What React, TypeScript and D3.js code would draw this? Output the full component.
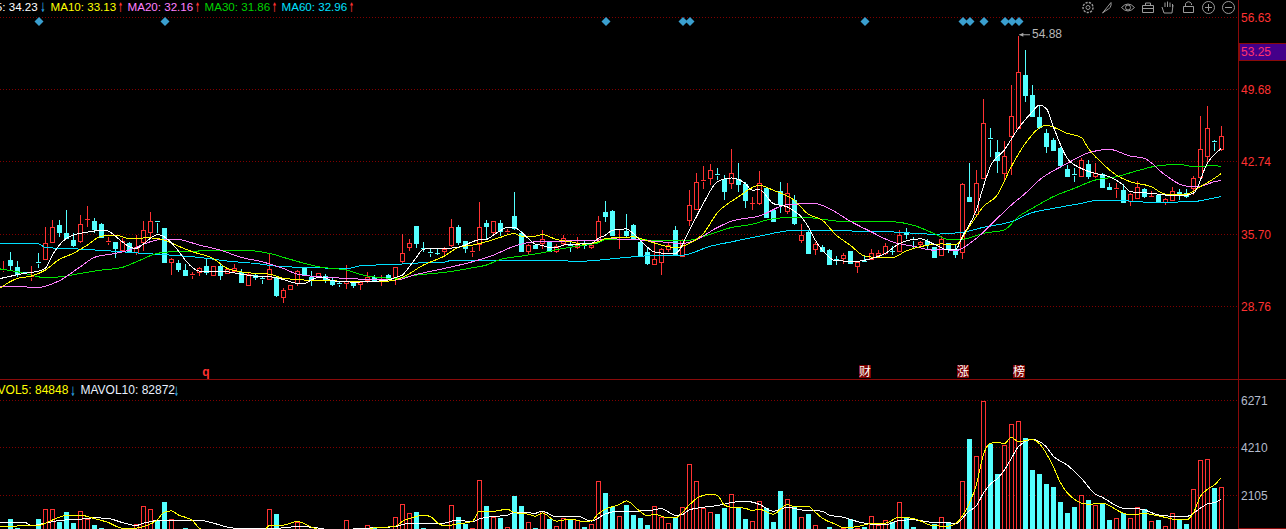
import React from 'react';
import * as d3 from 'd3';

// candles, oldest first
const opens = [32.24,33.23,32.53,32.05,31.56,33.04,33.30,34.93,36.60,35.80,35.16,35.03,37.15,36.96,36.70,35.00,34.93,34.20,34.84,34.04,35.00,35.96,37.05,36.28,33.01,32.91,32.27,31.79,32.05,32.66,31.82,32.66,31.95,32.21,32.08,30.86,31.82,31.47,31.44,31.60,29.70,30.41,30.99,32.49,31.56,31.56,31.69,31.24,31.05,31.05,31.05,30.89,31.31,31.63,31.31,31.76,31.63,33.14,34.52,36.51,34.39,34.00,33.94,34.07,34.71,36.44,35.06,34.04,34.77,36.80,35.96,36.80,35.90,37.47,35.80,34.10,34.65,34.84,35.00,34.10,34.84,34.71,34.45,34.84,34.52,35.26,37.85,37.94,35.44,36.02,36.59,34.99,34.00,32.90,33.06,34.28,36.11,33.64,37.11,38.17,40.86,41.18,41.54,41.09,40.70,41.02,40.61,38.71,38.71,40.16,38.04,39.87,37.97,39.07,35.15,35.95,34.31,34.48,34.19,33.32,33.45,34.09,32.71,33.10,33.32,33.74,33.87,34.15,34.12,35.92,35.28,34.80,35.05,34.47,33.73,34.85,34.27,33.99,39.31,37.71,41.18,45.03,43.65,41.66,45.16,45.99,51.06,49.14,47.02,45.48,44.80,44.03,42.01,41.50,41.34,42.49,41.37,41.50,40.28,40.12,39.99,38.90,39.25,40.09,39.35,39.51,38.87,39.03,39.76,39.67,40.15,41.27,43.23,44.71,43.97];
const closes = [32.33,32.75,31.88,31.98,31.69,32.98,34.84,36.38,35.96,35.38,34.71,36.76,37.21,36.22,35.48,35.06,34.39,35.03,34.04,34.45,36.09,36.96,36.92,33.07,33.30,32.37,31.79,31.85,32.49,32.05,32.62,31.82,32.33,32.43,31.11,31.85,31.63,31.37,32.33,29.86,30.34,30.83,32.14,31.76,31.31,31.95,31.37,30.92,30.95,31.21,30.86,31.08,31.56,31.24,31.40,31.56,32.53,33.88,34.84,34.90,34.29,33.94,33.88,34.32,36.38,35.00,34.42,34.10,36.38,36.54,36.96,36.06,36.03,36.28,34.10,34.65,34.39,35.29,34.10,34.55,35.38,34.58,34.65,34.71,34.71,37.05,37.46,35.70,35.50,35.70,35.25,33.77,32.94,33.38,34.35,34.73,33.71,35.15,38.58,40.80,40.93,41.96,41.47,39.90,41.67,40.54,39.00,38.78,40.70,37.36,37.04,38.62,39.74,36.82,35.63,33.87,34.83,34.15,32.84,33.22,33.71,33.00,33.03,33.03,33.96,33.87,34.64,34.09,35.63,35.76,35.21,35.02,34.80,33.54,35.24,34.34,33.86,40.53,38.93,40.63,46.41,44.93,42.91,43.23,47.08,51.32,49.14,47.15,46.09,44.26,43.87,42.40,41.34,41.43,42.85,41.34,41.66,40.31,40.09,40.18,38.87,39.57,40.25,39.44,39.44,38.93,39.09,39.92,39.57,39.41,41.11,43.91,45.93,44.61,45.16];
const highs = [33.14,34.00,33.14,32.11,32.66,33.88,36.44,37.09,37.09,38.05,35.80,37.57,38.43,37.28,36.83,35.48,35.00,35.32,34.93,35.64,36.99,37.86,37.05,36.28,33.39,33.23,32.82,32.05,32.53,33.33,32.69,32.91,32.43,32.85,32.37,31.95,32.01,31.69,33.88,31.63,30.50,30.83,32.27,32.53,32.14,32.01,31.88,31.47,31.15,32.75,31.24,31.15,32.08,31.76,31.76,31.88,32.59,35.74,35.26,36.51,34.97,34.36,34.42,34.52,37.18,36.60,35.06,34.45,38.82,37.09,37.02,37.09,36.19,39.78,36.06,34.77,34.68,36.09,35.00,34.77,35.64,35.09,35.42,35.16,34.77,37.47,38.91,38.10,36.11,37.65,36.69,35.09,34.44,35.15,34.44,34.99,36.50,35.31,39.97,41.63,42.28,42.47,42.12,41.41,43.91,42.63,40.77,39.32,41.79,40.22,38.10,40.74,40.64,39.55,36.69,36.18,34.96,34.67,34.35,33.64,33.87,34.09,33.16,33.71,34.35,34.19,34.89,34.64,36.11,36.37,35.47,35.09,35.31,34.53,35.56,34.92,34.69,40.63,42.56,41.91,48.75,45.96,44.80,44.74,50.10,54.88,53.47,50.10,48.17,45.83,44.96,44.10,42.40,42.07,43.04,42.88,42.56,41.59,40.70,40.63,40.57,39.67,40.89,40.21,39.92,39.60,39.19,40.25,40.05,40.09,41.34,47.12,48.08,44.80,46.15];
const lows = [32.11,32.27,31.63,31.88,31.24,32.49,33.23,34.84,35.48,35.26,34.45,34.90,36.38,35.80,35.38,34.68,33.39,34.10,33.88,33.71,34.10,35.48,35.80,32.98,31.79,32.11,31.69,31.40,31.72,31.79,31.79,31.31,31.92,32.01,31.05,30.83,31.31,30.92,31.31,29.70,29.12,30.41,30.76,31.69,30.76,31.47,31.05,30.73,30.63,30.44,30.54,30.34,30.99,31.15,30.73,31.31,30.83,32.91,34.10,34.39,34.04,33.55,33.71,33.71,34.52,34.68,33.94,33.52,34.13,35.26,35.64,35.58,35.74,36.12,34.00,33.84,34.32,34.26,34.04,33.88,34.68,34.04,34.32,34.32,34.32,35.22,36.92,35.63,34.28,35.37,35.15,33.61,32.74,32.74,31.78,34.03,33.61,33.51,36.50,38.10,40.13,40.45,40.93,39.00,40.13,39.80,38.26,38.04,38.55,37.27,36.92,37.78,37.65,36.61,34.89,33.80,33.71,34.00,32.79,32.74,32.84,32.84,31.97,32.94,33.22,33.61,33.71,33.71,34.06,35.28,34.44,34.57,34.35,33.47,33.67,33.89,33.44,33.34,38.90,37.65,41.11,43.20,41.66,40.76,41.43,45.93,48.50,46.99,45.83,43.58,43.74,42.14,41.31,40.76,41.21,41.05,41.18,40.21,39.99,39.19,38.77,38.45,39.09,39.19,39.22,38.87,38.54,38.93,39.03,39.25,39.51,41.11,42.56,43.71,43.78];
const volumes = [500,1087,695,450,560,1087,1508,1508,971,1392,898,1421,1087,826,695,560,520,480,430,855,1639,1508,1000,1828,1073,600,695,420,380,450,520,400,380,360,420,390,350,400,1508,1305,560,480,971,500,420,380,450,360,340,1029,520,480,811,695,420,460,1160,1726,1334,1392,695,520,480,500,1682,1174,869,695,2771,1653,1189,1131,739,2089,1653,942,695,1421,1087,782,1131,1087,1044,739,855,2728,2220,1610,1203,1697,1261,1131,826,1639,1160,898,1131,1595,3468,2728,1566,1378,1305,1566,2162,1595,1087,986,1857,1566,957,2307,1944,1595,1160,1305,811,600,739,550,695,1073,695,739,1203,826,1029,971,1813,1160,739,600,580,855,1160,927,620,2728,4572,3817,6256,4383,3047,4340,5254,5385,4616,3222,3047,2612,2481,1828,1349,1610,2118,1915,1697,1770,1044,1116,1349,1116,1595,1523,986,1044,768,1334,1087,869,2379,3643,3686,2438,2467];

const ma5Days = [-1,3,5,6,7,8,9,10,12,14,15,16,17,18,19,20,21,22,23,24,25,26,27,28,30,32,34,36,38,40,42,43,44,45,46,47,50,52,55,56,57,58,59,60,62,64,66,67,68,69,70,71,72,73,74,75,76,77,78,79,80,82,84,85,86,87,89,90,91,93,95,96,98,100,102,104,106,107,108,110,112,113,114,115,116,117,119,122,124,126,128,131,133,135,136,137,139,140,141,143,145,147,148,149,150,152,154,156,158,160,161,164,166,168,170,172,174];
const ma5 = [31.37,31.95,32.17,32.43,33.71,34.68,35.32,35.64,35.93,36.09,36.03,35.54,35.00,34.52,34.36,34.77,35.32,35.70,35.48,34.90,34.13,33.23,32.53,32.17,32.17,32.11,31.88,31.69,31.63,31.37,30.99,30.99,31.31,31.56,31.53,31.24,31.11,31.15,31.31,31.56,31.79,32.59,33.49,34.29,34.36,34.39,34.68,35.00,35.19,35.22,35.64,36.06,36.38,36.38,35.93,35.32,34.77,34.65,34.45,34.45,34.68,34.77,34.84,35.32,35.63,36.11,36.24,35.79,35.15,34.03,33.87,33.87,36.11,38.68,40.77,41.15,40.61,39.97,40.03,38.68,38.36,37.94,37.40,36.43,35.15,34.19,33.16,33.13,33.38,33.87,34.83,35.28,34.75,34.21,34.21,35.49,38.06,40.31,42.24,43.84,45.93,47.53,48.17,47.85,46.09,43.04,42.07,41.59,41.27,40.47,39.83,39.67,39.51,39.41,39.67,42.56,44.00];

const ma10Days = [-1,2,4,6,8,10,12,14,16,18,21,23,25,27,30,32,35,38,40,42,44,45,48,51,55,57,60,63,65,67,69,71,73,74,76,77,79,81,83,85,86,90,92,96,98,100,102,105,108,110,113,115,117,119,121,123,125,127,129,132,134,136,138,140,142,144,146,149,152,154,155,157,159,161,164,166,169,171,173,174];
const ma10 = [30.28,31.47,31.69,32.27,33.30,33.88,34.68,35.54,35.64,35.32,35.38,35.16,34.58,34.04,33.39,32.43,32.01,31.88,31.47,31.37,31.27,31.31,31.21,31.21,31.21,31.56,32.75,33.62,34.45,34.68,35.00,35.42,35.80,35.54,35.54,35.70,35.22,35.00,34.77,35.00,35.31,35.47,35.09,34.44,34.83,35.79,37.78,39.32,40.45,39.97,39.00,37.65,37.08,35.63,34.67,33.64,33.48,33.48,34.12,34.67,34.79,34.69,36.46,38.38,39.51,42.24,44.48,46.22,45.45,45.06,44.00,42.56,41.43,40.79,40.31,39.60,39.60,40.31,41.11,41.59];

const ma20Days = [-1,2,5,8,11,13,16,18,21,23,25,28,31,34,37,40,42,45,49,52,56,59,63,67,70,73,76,80,83,85,86,90,94,97,99,102,104,108,112,116,118,121,124,127,130,133,134,136,139,142,144,146,148,152,155,158,161,163,166,169,171,173,174];
const ma20 = [30.67,30.67,30.60,31.24,32.59,33.49,33.88,34.20,35.00,35.26,35.22,34.68,34.20,33.49,33.07,32.43,31.88,31.63,31.47,31.37,31.31,31.85,32.43,33.07,33.71,34.58,35.00,35.06,35.16,35.16,35.28,35.21,34.99,34.83,35.21,36.37,36.98,37.49,38.58,38.68,38.20,36.98,35.95,34.99,34.57,34.19,34.27,34.15,35.33,37.26,38.54,39.67,40.95,42.56,43.58,43.91,43.26,43.04,41.43,40.37,40.37,40.79,40.92];

const ma30Days = [-1,2,4,6,9,11,14,17,19,22,24,30,35,38,41,45,49,52,56,59,63,67,69,71,74,77,80,83,85,86,90,94,98,101,104,107,109,112,115,117,120,123,127,130,133,135,137,140,143,145,147,150,153,156,159,162,165,168,170,173,174];
const ma30 = [32.43,32.11,31.79,31.53,31.69,31.95,32.27,32.53,33.07,33.88,34.04,34.13,34.16,33.88,33.30,32.59,32.27,31.69,31.47,31.79,32.05,32.49,32.75,33.30,33.62,33.94,34.36,34.68,34.90,35.21,35.25,35.09,35.15,35.73,36.37,36.69,37.08,37.33,37.33,37.17,36.95,36.92,36.92,36.59,35.79,35.24,35.24,35.82,36.14,37.42,38.22,39.35,40.15,40.95,41.27,41.85,42.33,42.46,42.24,42.33,42.27];

const ma60Days = [-1,5,6,11,15,20,24,28,32,36,40,44,49,51,56,60,63,64,71,80,82,85,90,94,97,101,104,108,112,113,120,127,133,137,140,144,147,150,154,156,159,164,170,172,174];
const ma60 = [34.84,34.81,34.45,34.29,34.13,33.88,33.71,33.49,33.14,32.91,32.59,32.53,32.40,32.69,32.82,32.98,33.04,33.20,33.20,33.17,33.10,33.23,33.55,33.71,33.71,34.57,34.99,35.54,36.05,36.11,36.05,35.95,35.73,35.91,36.39,36.94,37.81,38.22,38.70,38.96,38.99,38.80,38.87,39.09,39.35];

const mavol5Days = [-1,4,5,6,8,9,11,13,15,17,19,20,22,23,24,25,27,28,30,33,37,38,40,42,44,47,52,53,56,57,59,60,61,62,63,65,67,68,70,72,73,75,76,77,79,81,83,84,85,86,88,89,91,92,93,95,96,98,99,100,101,102,103,104,106,107,108,110,112,113,115,116,117,119,120,122,124,126,128,130,133,135,136,138,139,140,141,142,143,144,145,147,148,150,151,153,155,157,160,161,163,165,168,169,170,171,172,173,174];
const mavol5 = [753,782,782,898,1160,1247,1247,1102,927,680,680,753,1044,1378,1436,1261,1014,680,434,420,450,797,811,971,724,490,608,695,753,971,1189,1247,1189,927,782,869,971,1421,1421,1508,1363,1290,1203,1349,986,1073,971,1000,1305,1508,1712,1871,1406,1218,1290,1131,1131,1697,1973,2118,2162,2118,1697,1595,1552,1450,1508,1290,1712,1624,1639,1378,1116,840,695,753,884,898,1160,1102,782,768,869,1770,2568,3875,4398,4427,4383,4645,4470,4557,4383,3367,2684,1944,1726,1770,1334,1261,1320,1218,1044,1044,1334,2060,2379,2568,2902];

const mavol10Days = [-1,3,4,6,8,11,13,15,17,19,20,23,28,30,33,38,40,42,44,47,52,56,58,60,61,63,64,65,67,68,70,72,73,75,76,77,79,82,84,86,88,92,94,96,97,98,100,102,104,106,108,110,112,114,117,118,120,122,124,126,128,130,133,135,136,138,139,140,141,142,143,144,145,147,149,150,152,154,156,157,160,162,163,165,168,169,171,172,173,174];
const mavol10 = [942,942,797,898,1014,1073,1131,1102,927,797,898,1029,1029,898,680,652,695,753,724,608,680,753,898,898,898,898,986,1029,956,1087,1189,1247,1363,1349,1334,1421,1174,1203,986,1305,1421,1436,1537,1247,1276,1479,1595,1668,1799,1857,1726,1421,1595,1479,1421,1247,1160,971,855,826,1014,1044,927,927,869,1436,1653,2205,2612,2844,3222,3730,4238,4557,4238,3831,3439,2859,2176,2031,1552,1537,1479,1261,1189,1189,1552,1741,1799,1944];

const priceTicks = ['56.63', '49.68', '42.74', '35.70', '28.76'];
const volumeTicks = ['6271', '4210', '2105'];
const currentPrice = '53.25';
const peakLabel = '54.88';
const signalDays = [5, 23, 86, 97, 98, 123, 137, 138, 140, 143, 144, 145];

const priceLegend = [
  { text: 'MA5: 34.23', arrow: '↓', color: '#ffffff' },
  { text: 'MA10: 33.13', arrow: '↑', color: '#ffff00' },
  { text: 'MA20: 32.16', arrow: '↑', color: '#ff80ff' },
  { text: 'MA30: 31.86', arrow: '↑', color: '#00d000' },
  { text: 'MA60: 32.96', arrow: '↑', color: '#00e0ff' },
];
const legendX = [-21.6, 50.5, 127.5, 204.5, 281.5];
const legendArrowX = [43, 120.5, 197.5, 274.5, 351.5];
const volumeLegend = [
  { text: 'MAVOL5: 84848', arrow: '↓', color: '#ffff00' },
  { text: 'MAVOL10: 82872', arrow: '↓', color: '#e8f0ff' },
];
const volumeLegendX = [-19.5, 80.5];
const volumeArrowX = [73, 176.5];
const newsMarks = [
  { label: '财', day: 123 },
  { label: '涨', day: 137 },
  { label: '榜', day: 145 },
];

const RED = '#ff3232';
const CYAN = '#54ffff';
const GRID = '#800000';
const AXIS = '#8a0a0a';
const ICON = '#9a9a9a';
const ARROW_BLUE = '#2a9ddc';

const x = d3.scaleLinear().domain([0, 174]).range([3.3, 1221.3]);
const yPrice = d3.scaleLinear().domain([28.76, 56.63]).range([306.5, 17.4]);
const yVolume = d3.scaleLinear().domain([2105, 6271]).range([495.6, 400.4]);

const priceLine = (days: number[], values: number[]) =>
  d3.line<number>()
    .x((_, i) => x(days[i]))
    .y(d => yPrice(d))
    .curve(d3.curveMonotoneX)(values) || '';

const volumeLine = (days: number[], values: number[]) =>
  d3.line<number>()
    .x((_, i) => x(days[i]))
    .y(d => yVolume(d))
    .curve(d3.curveMonotoneX)(values) || '';

const snap = (v: number) => Math.round(v) + 0.5;

const Candle: React.FC<{ i: number }> = ({ i }) => {
  const up = closes[i] >= opens[i];
  const color = up ? RED : CYAN;
  const cx = Math.floor(x(i)) + 0.5;
  const top = snap(yPrice(Math.max(opens[i], closes[i])));
  const bottom = snap(yPrice(Math.min(opens[i], closes[i])));
  return (
    <g>
      <line x1={cx} x2={cx} y1={yPrice(highs[i])} y2={top} stroke={color} />
      <line x1={cx} x2={cx} y1={bottom} y2={yPrice(lows[i])} stroke={color} />
      {bottom - top < 2 ? (
        <line x1={cx - 2.5} x2={cx + 2.5} y1={top} y2={top} stroke={color} />
      ) : (
        <rect x={cx - 2} y={top} width={4} height={bottom - top}
          fill={up ? '#000' : color} stroke={color} />
      )}
    </g>
  );
};

const VolumeBar: React.FC<{ i: number }> = ({ i }) => {
  const up = closes[i] >= opens[i];
  const cx = Math.floor(x(i)) + 0.5;
  const top = snap(yVolume(volumes[i]));
  return (
    <rect x={cx - 2} y={top} width={4} height={540 - top}
      fill={up ? '#000' : CYAN} stroke={up ? RED : CYAN} />
  );
};

const Icons: React.FC = () => (
  <g fill="none" stroke={ICON} strokeWidth={1}>
    <circle cx={1088} cy={7.5} r={2} />
    <circle cx={1088} cy={7.5} r={5} strokeDasharray="2.2 1.2" strokeWidth={1.4} />
    <path d="M1102.5 13 L1111 2.5 Q1112 8 1106 10.5 Z" />
    <path d="M1121.5 7.5 Q1128 0.5 1134.5 7.5 Q1128 14.5 1121.5 7.5 Z" />
    <circle cx={1128} cy={7.5} r={2.5} />
    <path d="M1142.5 5.5 H1153.5 V12.5 H1142.5 Z M1145.5 5.5 V3 H1150.5 V5.5 M1142.5 8.5 H1153.5" />
    <path d="M1164 13 L1162 7 M1164 13 H1172 L1173 5 M1165 7 V2.5 M1167.5 7 V1.5 M1170 7 V2.5 M1172.5 7 V4" />
    <path d="M1183.5 6.5 H1193.5 V12.5 H1183.5 Z M1185.5 6.5 V3.5 Q1188.5 0 1191.5 3.5 V5" />
    <circle cx={1208.5} cy={7.5} r={6} />
    <path d="M1205 7.5 H1212 M1208.5 4 V11" />
    <circle cx={1228.5} cy={7.5} r={6} />
    <path d="M1225 7.5 H1232" />
  </g>
);

export default function App() {
  const days = d3.range(closes.length);
  return (
    <svg width={1286} height={529} viewBox="0 0 1286 529"
      style={{ position: 'fixed', left: 0, top: 0, background: '#000', display: 'block' }}
      fontFamily="'Liberation Sans', Arial, sans-serif" fontSize={12}>
      {/* grid */}
      <g stroke={GRID} strokeDasharray="1 2" shapeRendering="crispEdges">
        {priceTicks.map(t => (
          <line key={t} x1={0} x2={1238} y1={Math.floor(yPrice(+t)) + 0.5} y2={Math.floor(yPrice(+t)) + 0.5} />
        ))}
        {volumeTicks.map(t => (
          <line key={t} x1={0} x2={1238} y1={Math.floor(yVolume(+t)) + 0.5} y2={Math.floor(yVolume(+t)) + 0.5} />
        ))}
      </g>

      {/* volume pane */}
      <g shapeRendering="crispEdges">
        {days.map(i => <VolumeBar key={i} i={i} />)}
      </g>
      <g fill="none" strokeWidth={1} shapeRendering="crispEdges">
        <path d={volumeLine(mavol10Days, mavol10)} stroke="#fff" />
        <path d={volumeLine(mavol5Days, mavol5)} stroke="#ffff00" />
      </g>

      {/* price pane */}
      <g shapeRendering="crispEdges">
        {days.map(i => <Candle key={i} i={i} />)}
      </g>
      <g fill="none" strokeWidth={1} shapeRendering="crispEdges">
        <path d={priceLine(ma60Days, ma60)} stroke="#00e0ff" />
        <path d={priceLine(ma30Days, ma30)} stroke="#00e600" />
        <path d={priceLine(ma20Days, ma20)} stroke="#ff80ff" />
        <path d={priceLine(ma10Days, ma10)} stroke="#ffff00" />
        <path d={priceLine(ma5Days, ma5)} stroke="#fff" />
      </g>

      {/* signal diamonds */}
      <g fill="#3a9fcf">
        {signalDays.map(d => {
          const [cx, cy] = [Math.floor(x(d)) + 1, 21.5];
          return <path key={d} d={`M${cx} ${cy - 4.5} L${cx + 4.5} ${cy} L${cx} ${cy + 4.5} L${cx - 4.5} ${cy} Z`} />;
        })}
      </g>

      {/* highest price note */}
      <line x1={x(145) + 1} x2={1030} y1={yPrice(54.88) - 0.8} y2={yPrice(54.88) - 0.8} stroke="#a8a8a8" />
      <path d={`M${x(145) + 1} ${yPrice(54.88) - 0.8} l4 -2 v4 Z`} fill="#a8a8a8" />
      <text x={1032} y={38} fill="#b8b8b8">{peakLabel}</text>

      {/* news marks */}
      <text x={206} y={376} fill={RED} fontWeight="bold" textAnchor="middle">q</text>
      {newsMarks.map(m => (
        <g key={m.label}>
          <rect x={Math.floor(x(m.day)) - 5} y={365} width={12} height={13} fill="#7a0000" />
          <text x={Math.floor(x(m.day)) + 1} y={376} fill="#fff" textAnchor="middle"
            fontFamily="'Noto Sans CJK SC'">{m.label}</text>
        </g>
      ))}

      {/* frame */}
      <g stroke={AXIS} shapeRendering="crispEdges">
        <line x1={0} x2={1286} y1={379.5} y2={379.5} />
        <line x1={1238.5} x2={1238.5} y1={0} y2={529} />
        <line x1={1238} x2={1286} y1={528.5} y2={528.5} />
      </g>

      {/* price axis */}
      <rect x={1239} y={43.5} width={47} height={16.5} fill="#44008a" stroke={AXIS} shapeRendering="crispEdges" />
      <text x={1241} y={56} fill="#ff3270">{currentPrice}</text>
      {priceTicks.map(t => (
        <text key={t} x={1241} y={yPrice(+t) + 4.5} fill={RED}>{t}</text>
      ))}
      {volumeTicks.map(t => (
        <text key={t} x={1241} y={yVolume(+t) + 4.5} fill="#b4bccc">{t}</text>
      ))}

      {/* legends */}
      {priceLegend.map((l, i) => (
        <g key={l.text}>
          <text x={legendX[i]} y={11} fontSize={11.6} fill={l.color}>{l.text}</text>
          <text x={legendArrowX[i]} y={12} fontSize={13} textAnchor="middle"
            textLength={5} lengthAdjust="spacingAndGlyphs"
            fontFamily="'DejaVu Sans'" fontWeight="bold"
            fill={l.arrow === '↑' ? RED : ARROW_BLUE}>{l.arrow}</text>
        </g>
      ))}
      {volumeLegend.map((l, i) => (
        <g key={l.text}>
          <text x={volumeLegendX[i]} y={394} fill={l.color}>{l.text}</text>
          <text x={volumeArrowX[i]} y={396} fontSize={13} textAnchor="middle"
            textLength={5} lengthAdjust="spacingAndGlyphs"
            fontFamily="'DejaVu Sans'" fontWeight="bold" fill={ARROW_BLUE}>{l.arrow}</text>
        </g>
      ))}

      <Icons />
    </svg>
  );
}
